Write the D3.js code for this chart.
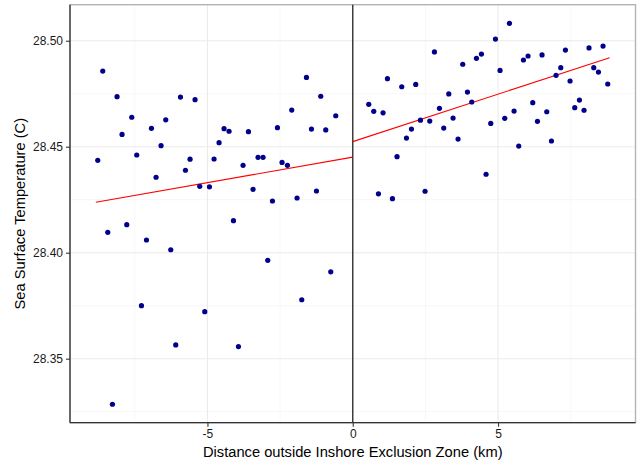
<!DOCTYPE html>
<html>
<head>
<meta charset="utf-8">
<script src="https://cdn.jsdelivr.net/npm/d3@7/dist/d3.min.js"></script>
<style>
  html, body { margin: 0; padding: 0; background: #fff; }
  svg { display: block; font-family: "Liberation Sans", Arial, sans-serif; }
</style>
</head>
<body>
<svg id="chart" width="639" height="465"></svg>
<script>
// Distance (km) and sea surface temperature (C), inside vs outside the zone
const leftDist = [-8.775,-8.603,-8.431,-8.269,-8.111,-7.939,-7.777,-7.605,-7.433,-7.271,-7.099,-6.927,-6.769,-6.597,-6.435,-6.263,-6.091,-5.929,-5.757,-5.599,-5.427,-5.265,-5.093,-4.931,-4.773,-4.601,-4.429,-4.257,-4.105,-3.933,-3.775,-3.589,-3.431,-3.259,-3.087,-2.925,-2.763,-2.591,-2.433,-2.247,-2.099,-1.917,-1.755,-1.593,-1.421,-1.249,-1.101,-0.929,-0.757,-0.585];
const leftSST = [28.4436,28.4857,28.4096,28.3285,28.4736,28.4558,28.4132,28.4639,28.4461,28.3750,28.4060,28.4587,28.4356,28.4505,28.4627,28.4014,28.3565,28.4734,28.4389,28.4441,28.4722,28.4313,28.3722,28.4311,28.4442,28.4519,28.4585,28.4573,28.4151,28.3557,28.4412,28.4571,28.4299,28.4450,28.4450,28.3964,28.4244,28.4590,28.4426,28.4412,28.4673,28.4258,28.3778,28.4827,28.4583,28.4291,28.4738,28.4579,28.3910,28.4646];

const rightDist = [0.551,0.723,0.884,1.043,1.194,1.366,1.524,1.686,1.848,2.020,2.168,2.330,2.488,2.650,2.811,2.983,3.131,3.304,3.452,3.624,3.785,3.947,4.095,4.257,4.429,4.587,4.749,4.911,5.069,5.231,5.392,5.551,5.712,5.874,6.032,6.194,6.356,6.514,6.676,6.838,6.996,7.158,7.319,7.478,7.639,7.801,7.959,8.131,8.293,8.455,8.613,8.775];
const rightSST = [28.4700,28.4667,28.4278,28.4660,28.4821,28.4255,28.4453,28.4783,28.4541,28.4583,28.4794,28.4625,28.4290,28.4621,28.4947,28.4681,28.4588,28.4749,28.4635,28.4536,28.4889,28.4758,28.4711,28.4917,28.4937,28.4370,28.4610,28.5008,28.4860,28.4634,28.5082,28.4668,28.4503,28.4909,28.4928,28.4708,28.4620,28.4933,28.4665,28.4527,28.4837,28.4873,28.4956,28.4810,28.4684,28.4720,28.4672,28.4966,28.4873,28.4852,28.4975,28.4796];

// Fitted trend on each side: distance at each end and the fitted temperature there
const leftFitDist = [-8.84, 0];
const leftFitSST = [28.4238, 28.4451];
const rightFitDist = [0, 8.84];
const rightFitSST = [28.4524, 28.4920];

// Axis ticks
const xTicks = [-5, 0, 5];
const xMinorTicks = [-7.5, -2.5, 2.5, 7.5];
const yTicks = [28.35, 28.40, 28.45, 28.50];
const yMinorTicks = [28.325, 28.375, 28.425, 28.475];

const xDomain = [-9.73, 9.73];
const yDomain = [28.3198, 28.517];

const xLabel = "Distance outside Inshore Exclusion Zone (km)";
const yLabel = "Sea Surface Temperature (C)";

const panel = { left: 70, right: 635.5, top: 4.7, bottom: 422.7 };

const svg = d3.select("#chart");
const x = d3.scaleLinear().domain(xDomain).range([panel.left, panel.right]);
const y = d3.scaleLinear().domain(yDomain).range([panel.bottom, panel.top]);

// Grid
const grid = svg.append("g");
grid.selectAll(".vminor").data(xMinorTicks).join("line")
  .attr("x1", d => x(d)).attr("x2", d => x(d))
  .attr("y1", panel.top).attr("y2", panel.bottom)
  .attr("stroke", "#f2f2f2").attr("stroke-width", 0.6);
grid.selectAll(".hminor").data(yMinorTicks).join("line")
  .attr("y1", d => y(d)).attr("y2", d => y(d))
  .attr("x1", panel.left).attr("x2", panel.right)
  .attr("stroke", "#f2f2f2").attr("stroke-width", 0.6);
grid.selectAll(".vmajor").data(xTicks).join("line")
  .attr("x1", d => x(d)).attr("x2", d => x(d))
  .attr("y1", panel.top).attr("y2", panel.bottom)
  .attr("stroke", "#ebebeb").attr("stroke-width", 1.1);
grid.selectAll(".hmajor").data(yTicks).join("line")
  .attr("y1", d => y(d)).attr("y2", d => y(d))
  .attr("x1", panel.left).attr("x2", panel.right)
  .attr("stroke", "#ebebeb").attr("stroke-width", 1.1);

// Panel border
svg.append("rect")
  .attr("x", panel.left).attr("y", panel.top)
  .attr("width", panel.right - panel.left).attr("height", panel.bottom - panel.top)
  .attr("fill", "none").attr("stroke", "#b3b3b3").attr("stroke-width", 1.4);

// Vertical reference line at the zone boundary
svg.append("line")
  .attr("x1", x(0)).attr("x2", x(0))
  .attr("y1", panel.top).attr("y2", panel.bottom)
  .attr("stroke", "#333").attr("stroke-width", 1.4);

// Trend lines
const line = d3.line().x(d => x(d[0])).y(d => y(d[1]));
[[leftFitDist, leftFitSST], [rightFitDist, rightFitSST]].forEach(([xs, ys]) => {
  svg.append("path")
    .datum(xs.map((v, i) => [v, ys[i]]))
    .attr("d", line)
    .attr("fill", "none").attr("stroke", "#ff0000").attr("stroke-width", 1.1);
});

// Points
const pts = leftDist.map((d, i) => [d, leftSST[i]])
  .concat(rightDist.map((d, i) => [d, rightSST[i]]));
svg.append("g").selectAll("circle").data(pts).join("circle")
  .attr("cx", d => x(d[0])).attr("cy", d => y(d[1]))
  .attr("r", 2.6).attr("fill", "#00008b");

// Axes
const xAxis = d3.axisBottom(x).tickValues(xTicks).tickSize(4).tickPadding(3)
  .tickFormat(d => String(d));
const yAxis = d3.axisLeft(y).tickValues(yTicks).tickSize(4).tickPadding(3)
  .tickFormat(d => d.toFixed(2));

const gx = svg.append("g").attr("transform", `translate(0,${panel.bottom})`).call(xAxis);
const gy = svg.append("g").attr("transform", `translate(${panel.left},0)`).call(yAxis);
[gx, gy].forEach(g => {
  g.select(".domain").attr("stroke", "#333").attr("stroke-width", 1.3);
  g.selectAll(".tick line").attr("stroke", "#333").attr("stroke-width", 1.1);
  g.selectAll(".tick text").attr("fill", "#1a1a1a").style("font-size", "12px")
    .style("font-family", "'Liberation Sans', Arial, sans-serif");
});
gx.select(".domain").attr("d", `M${panel.left},0H${panel.right}`);
gy.select(".domain").attr("d", `M0,${panel.top}V${panel.bottom}`);

// Axis titles
svg.append("text")
  .attr("x", (panel.left + panel.right) / 2).attr("y", 457)
  .attr("text-anchor", "middle").style("font-size", "14.7px").attr("fill", "#000")
  .text(xLabel);
svg.append("text")
  .attr("transform", `translate(25,${(panel.top + panel.bottom) / 2}) rotate(-90)`)
  .attr("text-anchor", "middle").style("font-size", "14.7px").attr("fill", "#000")
  .text(yLabel);
</script>
</body>
</html>
